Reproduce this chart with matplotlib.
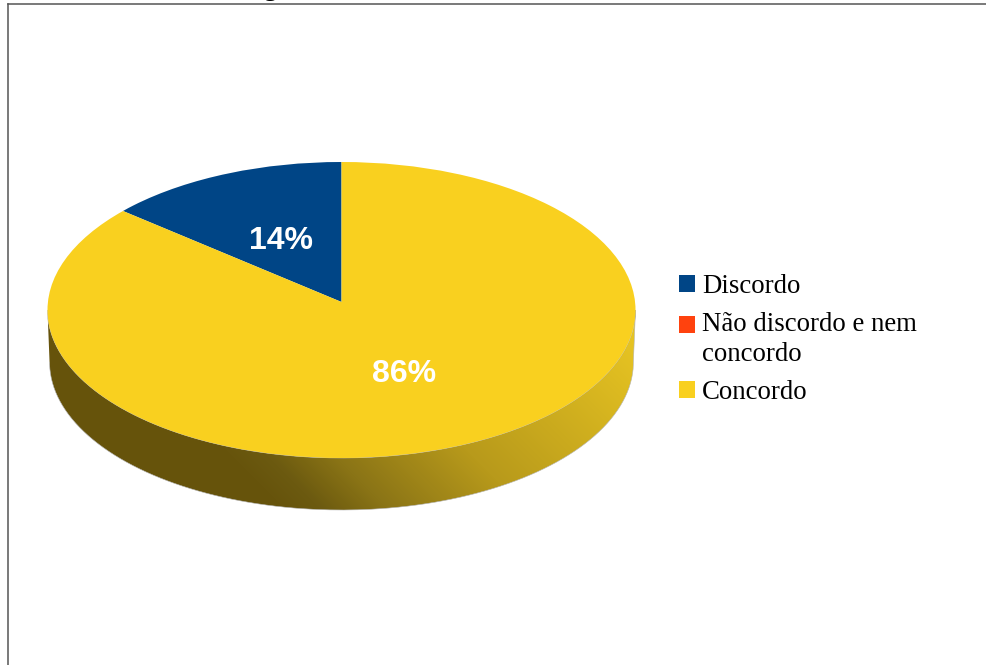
#!/usr/bin/env python3
# -*- coding:utf-8 -*-

import numpy as np
import matplotlib
matplotlib.use("Agg")
import matplotlib.pyplot as plt
from matplotlib.colors import LinearSegmentedColormap
from matplotlib.lines import Line2D
from matplotlib.patches import Ellipse, PathPatch, Patch
from matplotlib.path import Path

labels = ["Discordo", "Não discordo e nem\nconcordo", "Concordo"]
shares = [14, 0, 86]
colors = ["#004586", "#ff420e", "#f9d01f"]

W, H = 987, 665
CX, CY = 341.5, 310.0
RX, RY = 294.0, 148.0
DEPTH = 52.0

fig = plt.figure(figsize=(W / 100, H / 100), dpi=100)
ax = fig.add_axes([0, 0, 1, 1])


def px(x, y):
    # pixel position to pie units
    return (x - CX) / RX, (CY - y) / RY


# side wall of the disc: lower half of the top ellipse down to the bottom rim
t = np.linspace(np.pi, 2 * np.pi, 200)
wx = np.cos(t)
wy = np.sin(t)
xs = np.concatenate([wx, (wx * 0.993)[::-1]])
ys = np.concatenate([wy, (wy - DEPTH / RY)[::-1]])
wall = Path(np.column_stack([xs, ys]))
wall_patch = PathPatch(wall, fc="none", ec="#b5b5b5", lw=0.4, zorder=1.5)
ax.add_patch(wall_patch)

gx, gy = np.meshgrid(np.arange(W), np.arange(H))
grad = np.clip((gx - gy + 225) / 515, 0, 1)
shade = LinearSegmentedColormap.from_list(
    "shade",
    [(0, "#67540c"), (0.07, "#6c5a10"), (0.13, "#7a6612"), (0.2, "#8a7416"),
     (0.47, "#b89a1b"), (1, "#e6c322")],
)
img = ax.imshow(
    grad,
    cmap=shade,
    vmin=0,
    vmax=1,
    aspect="auto",
    extent=[px(0, 0)[0], px(W, 0)[0], px(0, H)[1], px(0, 0)[1]],
    origin="upper",
    zorder=1,
)
img.set_clip_path(wall_patch)

# top face, the wedges share an apex a little above the ellipse centre
top = Ellipse((0, 0), 2, 2, fc="none", ec="none")
ax.add_patch(top)
wedges, _, autotexts = ax.pie(
    shares,
    colors=colors,
    startangle=90,
    center=(0, 8 / RY),
    radius=1.1,
    autopct="%.0f%%",
    pctdistance=0.45,
    textprops=dict(color="white", fontsize=23, fontweight="bold", family="Liberation Sans"),
    wedgeprops=dict(linewidth=0, zorder=2),
)
for w in wedges:
    w.set_clip_on(True)
    w.set_clip_path(top)
for s, txt in zip(shares, autotexts):
    txt.set_zorder(3)
    txt.set_x(txt.get_position()[0] + 1 / RX)
    txt.set_y(txt.get_position()[1] - 5.5 / RY)
    if s == 0:
        txt.set_visible(False)

ax.set_aspect("auto")
ax.set_xlim(px(0, 0)[0], px(W, 0)[0])
ax.set_ylim(px(0, H)[1], px(0, 0)[1])
ax.axis("off")

handles = [Patch(fc=c, ec="none") for c in colors]
leg = ax.legend(
    handles,
    labels,
    loc="upper left",
    bbox_to_anchor=(679 / W, 1 - 274 / H),
    bbox_transform=fig.transFigure,
    frameon=False,
    prop=dict(family="Liberation Serif", size=19.3),
    handlelength=0.6,
    handleheight=0.6,
    handletextpad=0.26,
    labelspacing=0.47,
    borderpad=0,
    borderaxespad=0,
)
for txt in leg.get_texts():
    txt.set_linespacing(1.31)
# the swatch of the two-line entry sits on its first line
swatch = leg.legend_handles[1]
swatch.set_y(swatch.get_y() + 10.8)

# page border and the bit of caption above it
fig.add_artist(Line2D([8.5 / W, 8.5 / W], [0, 1 - 4 / H], color="#555555", lw=1.1))
fig.add_artist(Line2D([8.5 / W, 1], [1 - 4 / H, 1 - 4 / H], color="#555555", lw=1.1))
fig.text(270 / W, 1 + 4 / H, "g", ha="center", va="baseline",
         family="Liberation Serif", fontsize=19, color="black")

fig.savefig("out.png", dpi=100)
